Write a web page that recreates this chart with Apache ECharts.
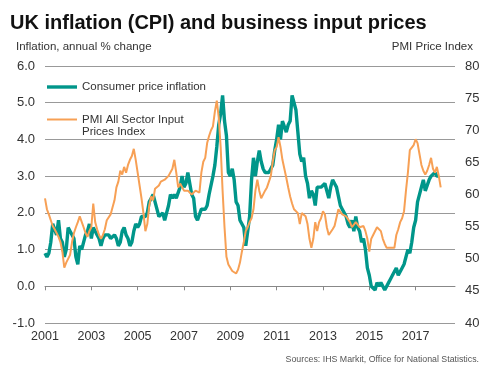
<!DOCTYPE html>
<html><head><meta charset="utf-8">
<script src="https://cdn.jsdelivr.net/npm/echarts@6/dist/echarts.min.js"></script>
<style>html,body{margin:0;padding:0;background:#fff}#c{width:496px;height:372px}</style>
</head><body><div id="c"></div>
<script>
// Monthly data, starting January 2001
const startYear = 2001;
const cpiInflation = [
  0.9,0.8,0.9,1.2,1.7,1.7,1.4,1.8,1.3,1.2,0.8,1.0,
  1.6,1.5,1.5,1.3,0.8,0.6,1.1,1.0,1.0,1.4,1.5,1.7,
  1.3,1.6,1.5,1.4,1.3,1.1,1.3,1.4,1.4,1.4,1.3,1.3,
  1.4,1.3,1.1,1.2,1.5,1.6,1.4,1.3,1.1,1.2,1.5,1.7,
  1.6,1.7,1.9,1.9,1.9,2.0,2.3,2.4,2.5,2.3,2.1,1.9,
  1.9,2.0,1.8,2.0,2.2,2.5,2.4,2.5,2.4,2.4,2.7,3.0,
  2.7,2.8,3.1,2.8,2.5,2.4,1.9,1.8,1.8,2.1,2.1,2.1,
  2.2,2.5,2.5,3.0,3.3,3.8,4.4,4.7,5.2,4.5,4.1,3.1,
  3.0,3.2,2.9,2.3,2.2,1.8,1.8,1.6,1.1,1.5,1.9,2.9,
  3.5,3.0,3.4,3.7,3.4,3.2,3.1,3.1,3.1,3.2,3.3,3.7,
  4.0,4.4,4.0,4.5,4.5,4.2,4.4,4.5,5.2,5.0,4.8,4.2,
  3.6,3.4,3.5,3.0,2.8,2.4,2.6,2.5,2.2,2.7,2.7,2.7,
  2.7,2.8,2.8,2.4,2.7,2.9,2.8,2.7,2.7,2.2,2.1,2.0,
  1.9,1.7,1.6,1.8,1.5,1.9,1.6,1.5,1.2,1.3,1.0,0.5,
  0.3,0.0,0.0,-0.1,0.1,0.0,0.1,0.0,-0.1,-0.1,0.1,0.2,
  0.3,0.3,0.5,0.3,0.3,0.5,0.6,0.6,1.0,0.9,1.2,1.6,
  1.8,2.3,2.3,2.7,2.9,2.6,2.6,2.9,3.0,3.0,3.1,3.0,
  3.0
];
const pmiInputPrices = [
  59.4,57.7,56.9,56.0,55.1,54.6,54.0,53.4,52.6,51.1,48.6,49.4,
  49.1,50.6,52.6,54.0,54.9,55.7,56.6,56.3,54.9,54.0,53.4,54.3,
  54.9,58.6,55.7,54.6,53.7,53.1,53.7,54.6,56.0,56.0,56.9,58.0,
  59.1,61.1,62.0,63.7,63.1,64.3,63.4,64.6,65.4,66.0,67.1,65.4,
  63.4,61.4,59.4,57.1,54.3,55.4,58.3,59.7,59.1,60.9,61.1,61.4,
  62.0,61.7,62.3,62.6,62.9,63.1,64.0,65.4,63.4,61.1,61.7,61.4,
  60.6,60.9,60.6,60.3,60.0,60.3,60.6,60.3,60.3,63.4,65.1,65.7,
  68.0,69.1,70.0,70.6,72.9,74.6,72.0,67.4,60.6,54.9,50.3,49.1,
  48.6,48.1,47.9,47.7,48.3,49.4,51.1,52.6,54.3,54.9,55.7,56.3,
  57.7,60.6,62.3,60.6,59.4,59.7,60.6,61.1,61.4,62.9,65.1,66.9,
  67.4,68.9,67.4,65.4,64.0,62.6,61.1,59.7,58.6,57.7,57.6,57.1,
  55.4,57.1,57.1,56.6,55.4,53.1,51.7,53.1,55.7,54.3,55.7,56.3,
  57.4,56.9,54.9,53.7,53.4,54.6,55.1,55.4,57.7,57.4,56.9,56.9,
  56.6,56.3,55.7,54.9,55.1,55.7,55.4,54.9,54.9,55.1,54.3,53.1,
  51.1,53.1,53.7,54.0,54.9,54.6,54.3,53.1,52.3,51.7,52.0,51.7,
  52.0,51.7,53.7,54.6,55.7,56.3,57.4,60.6,63.4,66.9,67.1,67.7,
  68.6,68.0,66.3,64.6,63.7,63.1,63.7,64.6,65.7,64.0,63.4,64.3,
  62.9,61.1
];
const yearTicks = [2001,2003,2005,2007,2009,2011,2013,2015,2017];
const leftTicks = { min: -1, max: 6, step: 1 };
const rightTicks = { min: 40, max: 80, step: 5 };
const cpiName = 'Consumer price inflation';
const pmiName = 'PMI All Sector Input Prices Index';

const toPairs = arr => arr.map((v, i) => [startYear + i / 12, v]);
const font = 'Arial, "Liberation Sans", sans-serif';
const teal = '#00968a', orange = '#f7a055';

const chart = echarts.init(document.getElementById('c'), null, { renderer: 'canvas' });
chart.setOption({
  animation: false,
  backgroundColor: '#fff',
  textStyle: { fontFamily: font },
  title: [
    { text: 'UK inflation (CPI) and business input prices', left: 10, top: 13, padding: 0,
      textStyle: { fontSize: 20, fontWeight: 'bold', color: '#111', fontFamily: font } },
    { text: 'Inflation, annual % change', left: 16, top: 41, padding: 0,
      textStyle: { fontSize: 11.5, fontWeight: 'normal', color: '#333', fontFamily: font } },
    { text: 'PMI Price Index', right: 23, top: 41, padding: 0,
      textStyle: { fontSize: 11.5, fontWeight: 'normal', color: '#333', fontFamily: font } },
    { text: 'Sources: IHS Markit, Office for National Statistics.', right: 17, top: 355, padding: 0,
      textStyle: { fontSize: 8.8, fontWeight: 'normal', color: '#555', fontFamily: font } }
  ],
  legend: {
    orient: 'vertical', left: 47, top: 81, padding: 0,
    itemWidth: 30, itemHeight: 14, itemGap: 8.5, symbolKeepAspect: true,
    textStyle: { fontSize: 11.5, color: '#333', lineHeight: 12, fontFamily: font },
    formatter: n => n === pmiName ? ' \nPMI All Sector Input\nPrices Index' : n,
    data: [
      { name: cpiName, icon: 'path://M0,0H30V3.4H0Z' },
      { name: pmiName, icon: 'path://M0,0H30V2H0Z' }
    ]
  },
  grid: { left: 45, right: 41, top: 66, bottom: 49 },
  xAxis: {
    type: 'value', min: 2001, max: 2018.7,
    axisLine: { lineStyle: { color: '#888', width: 1 } },
    axisTick: { customValues: yearTicks, length: 4, lineStyle: { color: '#888' } },
    axisLabel: { customValues: yearTicks, formatter: v => String(v), margin: 7, fontSize: 12.5, color: '#333', fontFamily: font },
    splitLine: { show: false }
  },
  yAxis: [
    { type: 'value', min: leftTicks.min, max: leftTicks.max, interval: leftTicks.step, position: 'left',
      axisLine: { show: false }, axisTick: { show: false },
      axisLabel: { formatter: v => v.toFixed(1), margin: 10, fontSize: 13, color: '#333', fontFamily: font },
      splitLine: { lineStyle: { color: '#999', width: 1 } } },
    { type: 'value', min: rightTicks.min, max: rightTicks.max, interval: rightTicks.step, position: 'right',
      axisLine: { show: false }, axisTick: { show: false },
      axisLabel: { margin: 10, fontSize: 13, color: '#333', fontFamily: font },
      splitLine: { show: false } }
  ],
  series: [
    { name: cpiName, type: 'line', yAxisIndex: 0, data: toPairs(cpiInflation), symbol: 'none',
      lineStyle: { color: teal, width: 3.4 }, itemStyle: { color: teal, borderWidth: 0 } },
    { name: pmiName, type: 'line', yAxisIndex: 1, data: toPairs(pmiInputPrices), symbol: 'none',
      lineStyle: { color: orange, width: 2 }, itemStyle: { color: orange, borderWidth: 0 } }
  ]
});
</script></body></html>
